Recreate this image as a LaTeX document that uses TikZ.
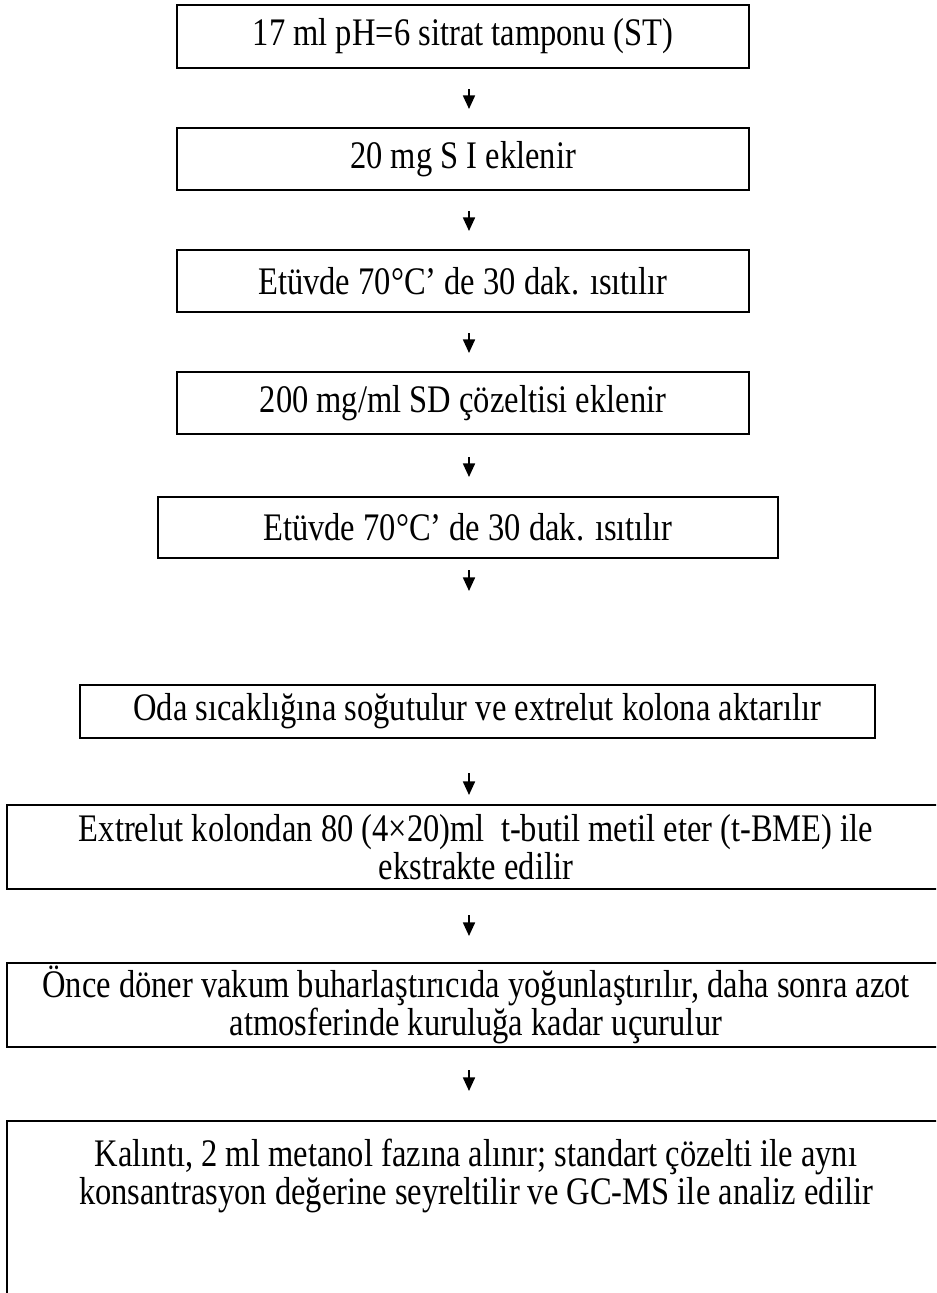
\documentclass[tikz,border=0pt]{standalone}
\usepackage{graphicx}
\usepackage{fontspec}
\setmainfont{Liberation Serif}
\usetikzlibrary{arrows.meta}
\newcommand\pxu{0.369pt}
\newcommand\ys[1]{\scalebox{1}[1.2]{#1}}
\begin{document}
\begin{tikzpicture}[x=0.369pt,y=-0.369pt,
  box/.style={draw, line width=0.8pt, inner sep=0pt, align=center,
    font={\fontsize{12}{14}\selectfont\lineskiplimit=-20pt}},
  arr/.style={line width=0.7pt, -{Triangle[length=5pt,width=4.4pt]}}]
\useasboundingbox (0,0) rectangle (936,1293);
\clip (0,0) rectangle (936,1293);
\node[box, minimum width=572*\pxu, minimum height=63*\pxu] (b1) at (463,36.5) {\ys{17 ml pH=6 sitrat tamponu (ST)}};
\node[box, minimum width=572*\pxu, minimum height=62*\pxu] (b2) at (463,159) {\ys{20 mg S I eklenir}};
\node[box, minimum width=572*\pxu, minimum height=62*\pxu] (b3) at (463,281) {\ys{Etüvde 70°C’ de 30 dak. ısıtılır}};
\node[box, minimum width=572*\pxu, minimum height=62*\pxu] (b4) at (463,403) {\ys{200 mg/ml SD çözeltisi eklenir}};
\node[box, minimum width=620*\pxu, minimum height=61*\pxu] (b5) at (468,527.5) {\ys{Etüvde 70°C’ de 30 dak. ısıtılır}};
\node[box, minimum width=795*\pxu, minimum height=53*\pxu] (b6) at (477.5,711.5) {\ys{Oda sıcaklığına soğutulur ve extrelut kolona aktarılır}};
\node[box, minimum width=938*\pxu, minimum height=84*\pxu] (b7) at (476,847) {\ys{Extrelut kolondan 80 (4×20)ml\ \ t-butil metil eter (t-BME) ile}\\\ys{ekstrakte edilir}};
\node[box, minimum width=938*\pxu, minimum height=84*\pxu] (b8) at (476,1005) {\ys{Önce döner vakum buharlaştırıcıda yoğunlaştırılır, daha sonra azot}\\\ys{atmosferinde kuruluğa kadar uçurulur}};
\node[box, anchor=north, minimum width=938*\pxu, inner ysep=6.6pt] (b9) at (476,1120) {\ys{Kalıntı, 2 ml metanol fazına alınır; standart çözelti ile aynı}\\\ys{konsantrasyon değerine seyreltilir ve GC-MS ile analiz edilir}\\[40pt]~};
\coordinate (a1s) at (469,89);   \coordinate (a1e) at (469,109);
\coordinate (a2s) at (469,211);  \coordinate (a2e) at (469,231);
\coordinate (a3s) at (469,333);  \coordinate (a3e) at (469,353);
\coordinate (a4s) at (469,457);  \coordinate (a4e) at (469,477);
\coordinate (a5s) at (469,570);  \coordinate (a5e) at (469,591);
\coordinate (a6s) at (469,773);  \coordinate (a6e) at (469,795);
\coordinate (a7s) at (469,915);  \coordinate (a7e) at (469,936);
\coordinate (a8s) at (469,1070); \coordinate (a8e) at (469,1091);
\foreach \i in {1,...,8} {\draw[arr] (a\i s) -- (a\i e);}
\end{tikzpicture}
\end{document}
